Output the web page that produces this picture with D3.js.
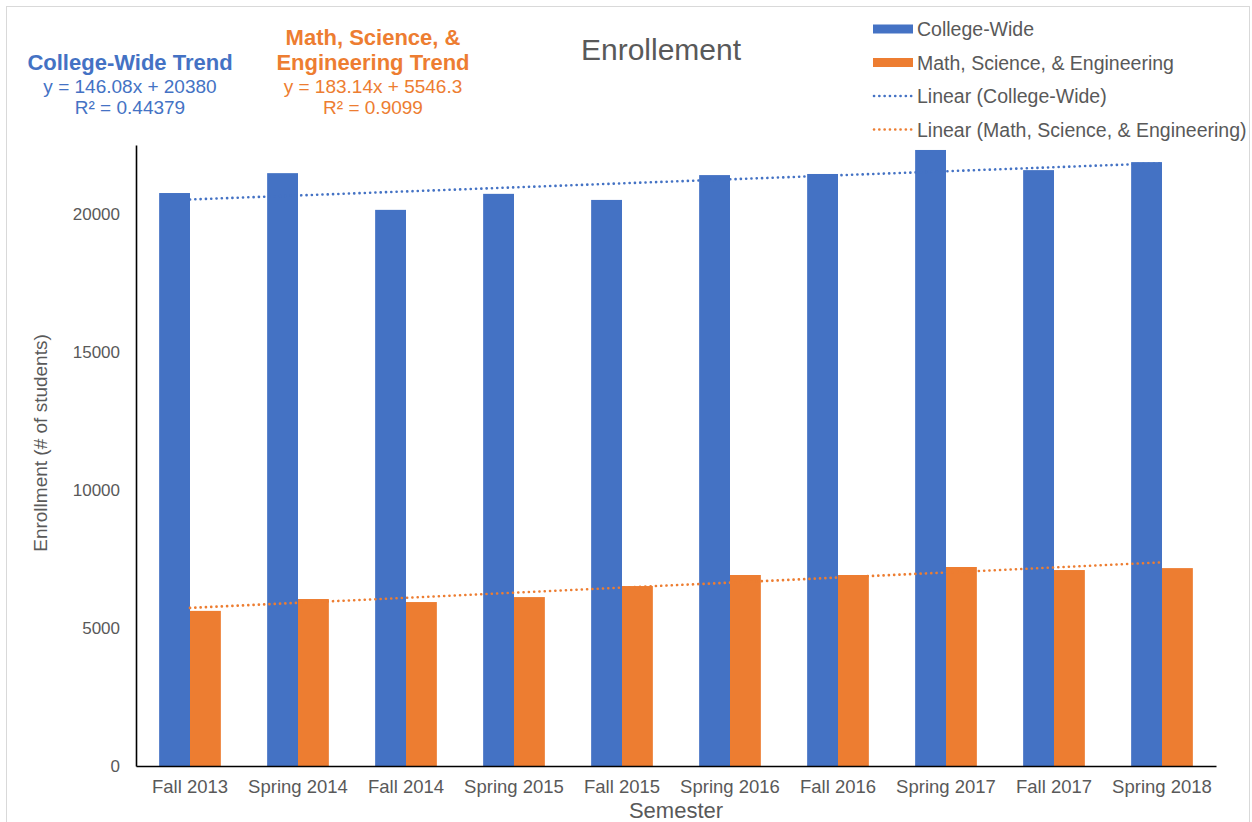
<!DOCTYPE html>
<html>
<head>
<meta charset="utf-8">
<script src="https://cdn.jsdelivr.net/npm/d3@7"></script>
<style>
  body { margin: 0; background: #fff; }
  text { font-family: "Liberation Sans", Arial, sans-serif; }
</style>
</head>
<body>
<div id="chart"></div>
<script>
// data
var semesters = ["Fall 2013", "Spring 2014", "Fall 2014", "Spring 2015", "Fall 2015",
    "Spring 2016", "Fall 2016", "Spring 2017", "Fall 2017", "Spring 2018"];
var collegeWide = [20760, 21480, 20150, 20730, 20510, 21410, 21450, 22320, 21590, 21880];
var mathSci = [5620, 6050, 5940, 6120, 6520, 6920, 6920, 7210, 7100, 7170];
var seriesNames = ["College-Wide", "Math, Science, & Engineering"];
var yTicks = [0, 5000, 10000, 15000, 20000];
// trend coefficients shown on the chart (x = 1..10)
var collegeTrend = [146.08, 20380];
var mathTrend = [183.14, 5546.3];

var blue = "#4472C4", orange = "#ED7D31", grey = "#595959";

var W = 1252, H = 822;
var margin = {top: 145, right: 36, bottom: 56, left: 136};
var width = W - margin.left - margin.right;
var height = H - margin.top - margin.bottom;

var svg = d3.select("#chart").append("svg")
    .attr("width", W)
    .attr("height", H);

// outer frame
svg.append("rect")
    .attr("x", 6.5).attr("y", 6.5)
    .attr("width", W - 2.5 - 6.5).attr("height", H + 10)
    .attr("fill", "none")
    .attr("stroke", "#d9d9d9");

var g = svg.append("g")
    .attr("transform", "translate(" + margin.left + "," + margin.top + ")");

var x = d3.scaleBand().domain(semesters).range([0, width]).paddingInner(0).paddingOuter(0);
var barW = x.bandwidth() / 3.5;
var y = d3.scaleLinear().domain([0, 22500]).range([height, 0]);

// bars
var groups = g.selectAll(".sem").data(semesters).enter()
    .append("g")
    .attr("class", "sem")
    .attr("transform", function(d) { return "translate(" + (x(d) + x.bandwidth() / 2) + ",0)"; });

groups.append("rect")
    .attr("x", -barW)
    .attr("y", function(d, i) { return y(collegeWide[i]); })
    .attr("width", barW)
    .attr("height", function(d, i) { return height - y(collegeWide[i]); })
    .attr("fill", blue);

groups.append("rect")
    .attr("x", 0)
    .attr("y", function(d, i) { return y(mathSci[i]); })
    .attr("width", barW)
    .attr("height", function(d, i) { return height - y(mathSci[i]); })
    .attr("fill", orange);

// trend lines
function trendLine(coef, color) {
    var pts = [1, semesters.length].map(function(n) {
        return [x(semesters[n - 1]) + x.bandwidth() / 2, y(coef[0] * n + coef[1])];
    });
    g.append("path")
        .attr("d", d3.line()(pts))
        .attr("fill", "none")
        .attr("stroke", color)
        .attr("stroke-width", 2.6)
        .attr("stroke-linecap", "round")
        .attr("stroke-dasharray", "0.1 5.2");
}
trendLine(collegeTrend, blue);
trendLine(mathTrend, orange);

// axes
var yAxis = g.append("g").call(d3.axisLeft(y).tickValues(yTicks).tickFormat(d3.format("d"))
    .tickSize(0).tickPadding(16));
yAxis.select(".domain").attr("stroke", "#000").attr("stroke-width", 1.6);
yAxis.selectAll("text").attr("fill", grey).style("font-size", "17px");

var xAxis = g.append("g")
    .attr("transform", "translate(0," + height + ")")
    .call(d3.axisBottom(x).tickSize(0).tickPadding(14));
xAxis.select(".domain").attr("stroke", "#000").attr("stroke-width", 1.6);
xAxis.selectAll("text").attr("fill", grey).style("font-size", "18.5px");

// axis titles
svg.append("text")
    .attr("x", margin.left + width / 2).attr("y", 818)
    .attr("text-anchor", "middle")
    .attr("fill", grey).style("font-size", "22px")
    .text("Semester");

svg.append("text")
    .attr("transform", "translate(47,443) rotate(-90)")
    .attr("text-anchor", "middle")
    .attr("fill", grey).style("font-size", "19px")
    .text("Enrollment (# of students)");

// chart title
svg.append("text")
    .attr("x", 661).attr("y", 60)
    .attr("text-anchor", "middle")
    .attr("fill", grey).style("font-size", "30px")
    .text("Enrollement");

// trend annotations
function fmtEq(c) { return "y = " + c[0] + "x + " + c[1]; }
var notes = [
    {cx: 130, color: blue, title: ["College-Wide Trend"], eq: fmtEq(collegeTrend), r2: "R² = 0.44379"},
    {cx: 373, color: orange, title: ["Math, Science, &", "Engineering Trend"], eq: fmtEq(mathTrend), r2: "R² = 0.9099"}
];
notes.forEach(function(n) {
    var ty = 70 - (n.title.length - 1) * 25;
    n.title.forEach(function(t, i) {
        svg.append("text")
            .attr("x", n.cx).attr("y", ty + i * 25)
            .attr("text-anchor", "middle")
            .attr("fill", n.color).style("font-size", "22px").style("font-weight", "bold")
            .text(t);
    });
    svg.append("text")
        .attr("x", n.cx).attr("y", 93)
        .attr("text-anchor", "middle")
        .attr("fill", n.color).style("font-size", "19px")
        .text(n.eq);
    svg.append("text")
        .attr("x", n.cx).attr("y", 114)
        .attr("text-anchor", "middle")
        .attr("fill", n.color).style("font-size", "19px")
        .text(n.r2);
});

// legend
var legendItems = [
    {label: seriesNames[0], color: blue, type: "bar"},
    {label: seriesNames[1], color: orange, type: "bar"},
    {label: "Linear (" + seriesNames[0] + ")", color: blue, type: "line"},
    {label: "Linear (" + seriesNames[1] + ")", color: orange, type: "line"}
];
var legend = svg.append("g").attr("transform", "translate(873,29)");
legendItems.forEach(function(d, i) {
    var row = legend.append("g").attr("transform", "translate(0," + (i * 33.5) + ")");
    if (d.type === "bar") {
        row.append("rect").attr("x", 0).attr("y", -4.5).attr("width", 40).attr("height", 9).attr("fill", d.color);
    } else {
        row.append("line").attr("x1", 1).attr("x2", 40).attr("y1", 0).attr("y2", 0)
            .attr("stroke", d.color).attr("stroke-width", 2.6)
            .attr("stroke-linecap", "round").attr("stroke-dasharray", "0.1 5.2");
    }
    row.append("text")
        .attr("x", 44).attr("y", 7)
        .attr("fill", grey).style("font-size", "19.5px")
        .text(d.label);
});
</script>
</body>
</html>
